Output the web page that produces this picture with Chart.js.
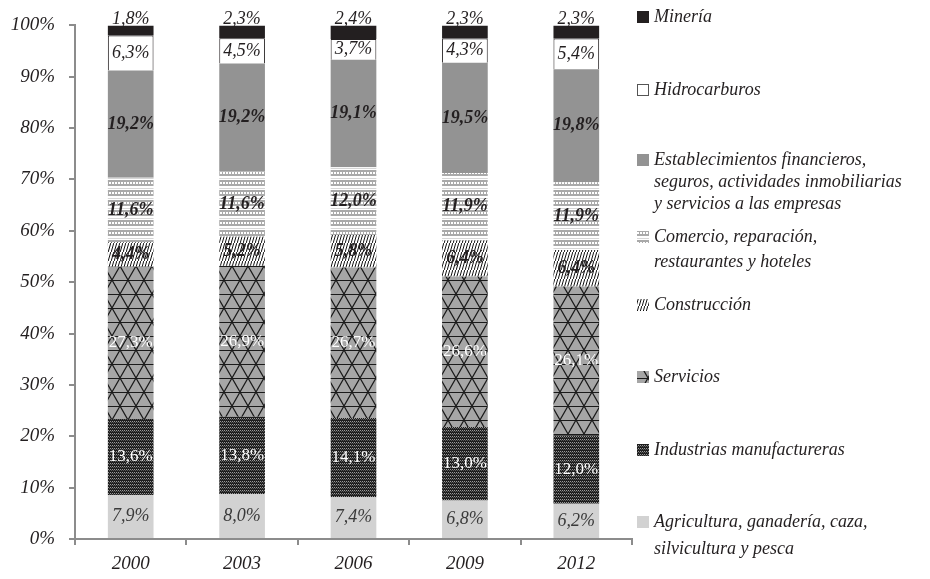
<!DOCTYPE html>
<html>
<head>
<meta charset="utf-8">
<script src="https://cdn.jsdelivr.net/npm/chart.js@4.4.1/dist/chart.umd.min.js"></script>
<style>
  html, body { margin: 0; padding: 0; background: #fff; }
  #wrap { width: 930px; height: 579px; }
</style>
</head>
<body>
<div id="wrap"><canvas id="chart" width="930" height="579"></canvas></div>
<script>
// Years on the x axis
const years = ['2000', '2003', '2006', '2009', '2012'];

// Sectors, bottom of the stack first ("\n" marks a legend line break)
const categories = [
    'Agricultura, ganadería, caza,\nsilvicultura y pesca',
    'Industrias manufactureras',
    'Servicios',
    'Construcción',
    'Comercio, reparación,\nrestaurantes y hoteles',
    'Establecimientos financieros,\nseguros, actividades inmobiliarias\ny servicios a las empresas',
    'Hidrocarburos',
    'Minería'
];

// Share of GDP (%) as printed on each segment
const agricultura   = [7.9, 8.0, 7.4, 6.8, 6.2];
const manufactura   = [13.6, 13.8, 14.1, 13.0, 12.0];
const servicios     = [27.3, 26.9, 26.7, 26.6, 26.1];
const construccion  = [4.4, 5.2, 5.8, 6.4, 6.4];
const comercio      = [11.6, 11.6, 12.0, 11.9, 11.9];
const financieros   = [19.2, 19.2, 19.1, 19.5, 19.8];
const hidrocarburos = [6.3, 4.5, 3.7, 4.3, 5.4];
const mineria       = [1.8, 2.3, 2.4, 2.3, 2.3];

const series = [agricultura, manufactura, servicios, construccion, comercio, financieros, hidrocarburos, mineria];

// y axis: 0% .. 100% in steps of 10
const yMin = 0;
const yMax = 100;
const yStep = 10;

const FONT = '"Liberation Serif", "DejaVu Serif", serif';
const INK = '#231f20';
const AXIS = '#8c8c8c';

const ctx = document.getElementById('chart').getContext('2d');

// Small helper to build fill patterns
function makePattern(w, h, draw) {
    const c = document.createElement('canvas');
    c.width = w;
    c.height = h;
    draw(c.getContext('2d'), w, h);
    return ctx.createPattern(c, 'repeat');
}

// Dark dotted rows for manufacturing
const manufPattern = makePattern(4, 3, (g, w, h) => {
    g.fillStyle = '#1e1e1e';
    g.fillRect(0, 0, w, h);
    g.fillStyle = '#9a9a9a';
    g.fillRect(0, 1, 1, 1);
    g.fillRect(2, 1, 1, 1);
    g.fillStyle = '#5a5a5a';
    g.fillRect(1, 2, 1, 1);
    g.fillRect(3, 2, 1, 1);
});

// Gray triangle lattice for services
const servPattern = makePattern(16, 28, (g, w, h) => {
    g.fillStyle = '#a6a6a6';
    g.fillRect(0, 0, w, h);
    g.strokeStyle = '#1a1a1a';
    g.lineWidth = 1.2;
    g.beginPath();
    g.moveTo(0, 0.5); g.lineTo(w, 0.5);
    g.moveTo(0, 14.5); g.lineTo(w, 14.5);
    g.moveTo(0, 0); g.lineTo(w, h);
    g.moveTo(w, 0); g.lineTo(0, h);
    g.stroke();
});

// Dense near-vertical hatch for construction
const constrPattern = makePattern(3, 9, (g, w, h) => {
    g.fillStyle = '#ffffff';
    g.fillRect(0, 0, w, h);
    g.strokeStyle = '#111111';
    g.lineWidth = 1;
    g.beginPath();
    g.moveTo(0.2, h); g.lineTo(2.8, 0);
    g.stroke();
});

// Brick-like gray bands for trade
const comercioPattern = makePattern(6, 10, (g, w, h) => {
    g.fillStyle = '#ffffff';
    g.fillRect(0, 0, w, h);
    g.fillStyle = '#a9a9a9';
    g.fillRect(0, 0, w, 2);
    g.fillRect(0, 4, w, 2);
    g.fillRect(0, 2, 1, 2);
    g.fillRect(3, 2, 1, 2);
    g.fillStyle = '#d6d6d6';
    g.fillRect(0, 8, w, 1);
});

const fills = ['#d2d2d2', manufPattern, servPattern, constrPattern, comercioPattern, '#939393', '#ffffff', INK];

// How each segment label is written
const labelStyles = [
    { font: 'italic 18px ' + FONT, color: '#3a3a3a' },
    { font: '17px ' + FONT, color: '#ffffff' },
    { font: '17px ' + FONT, color: '#ffffff' },
    { font: 'italic bold 18px ' + FONT, color: INK },
    { font: 'italic bold 18px ' + FONT, color: INK },
    { font: 'italic bold 18px ' + FONT, color: INK },
    { font: 'italic 18px ' + FONT, color: INK },
    { font: 'italic 18px ' + FONT, color: INK }
];

// Legend placement (first-line centre y and line spacing), same order as categories
const legendSlots = [
    { y: 522, gap: 27 },
    { y: 450, gap: 22 },
    { y: 377, gap: 22 },
    { y: 305, gap: 22 },
    { y: 237, gap: 25 },
    { y: 160, gap: 22 },
    { y: 90, gap: 22 },
    { y: 17, gap: 22 }
];

// Every bar is scaled to 100% of the sectors shown
const totals = years.map((_, j) => series.reduce((s, arr) => s + arr[j], 0));

const datasets = series.map((arr, i) => ({
    label: categories[i],
    data: arr.map((v, j) => v / totals[j] * 100),
    backgroundColor: fills[i],
    borderColor: i === 6 ? INK : 'rgba(0,0,0,0)',
    borderWidth: i === 6 ? 1 : 0,
    barPercentage: 0.41,
    categoryPercentage: 1
}));

function fmt(v) {
    return v.toFixed(1).replace('.', ',') + '%';
}

// Values written on each segment
const segmentLabels = {
    id: 'segmentLabels',
    afterDatasetsDraw(chart) {
        const c = chart.ctx;
        c.save();
        c.textAlign = 'center';
        c.textBaseline = 'middle';
        chart.data.datasets.forEach((ds, i) => {
            const meta = chart.getDatasetMeta(i);
            meta.data.forEach((bar, j) => {
                let y = (bar.y + bar.base) / 2;
                if (i === series.length - 1) y = bar.y - 6;
                c.font = labelStyles[i].font;
                c.fillStyle = labelStyles[i].color;
                c.fillText(fmt(series[i][j]), bar.x, y);
            });
        });
        c.restore();
    }
};

// Legend on the right with uneven spacing
const sideLegend = {
    id: 'sideLegend',
    afterDraw(chart) {
        const c = chart.ctx;
        const x0 = 637;
        c.save();
        c.font = 'italic 18px ' + FONT;
        c.textBaseline = 'middle';
        c.textAlign = 'left';
        categories.forEach((name, i) => {
            const slot = legendSlots[i];
            c.fillStyle = fills[i];
            c.fillRect(x0, slot.y - 6, 12, 12);
            if (i === 6) {
                c.strokeStyle = '#555';
                c.lineWidth = 1;
                c.strokeRect(x0 + 0.5, slot.y - 5.5, 11, 11);
            }
            c.fillStyle = INK;
            name.split('\n').forEach((line, k) => {
                c.fillText(line, x0 + 17, slot.y + k * slot.gap);
            });
        });
        c.restore();
    }
};

new Chart(ctx, {
    type: 'bar',
    data: { labels: years, datasets: datasets },
    options: {
        responsive: false,
        animation: false,
        layout: { padding: { top: 13, right: 298, bottom: 0, left: 0 } },
        plugins: {
            legend: { display: false },
            tooltip: { enabled: false }
        },
        scales: {
            x: {
                stacked: true,
                grid: { display: true, drawOnChartArea: false, tickLength: 6, color: AXIS, lineWidth: 2 },
                border: { color: AXIS, width: 2 },
                ticks: { color: INK, font: { family: FONT, size: 19, style: 'italic' }, padding: 8 },
                afterFit(scale) { scale.height = 40; }
            },
            y: {
                stacked: true,
                min: yMin,
                max: yMax,
                grid: { display: true, drawOnChartArea: false, tickLength: 6, color: AXIS, lineWidth: 2 },
                border: { color: AXIS, width: 2 },
                ticks: {
                    stepSize: yStep,
                    color: INK,
                    font: { family: FONT, size: 19, style: 'italic' },
                    padding: 14,
                    callback: v => v + '%'
                },
                afterFit(scale) { scale.width = 75; }
            }
        }
    },
    plugins: [segmentLabels, sideLegend]
});
</script>
</body>
</html>
